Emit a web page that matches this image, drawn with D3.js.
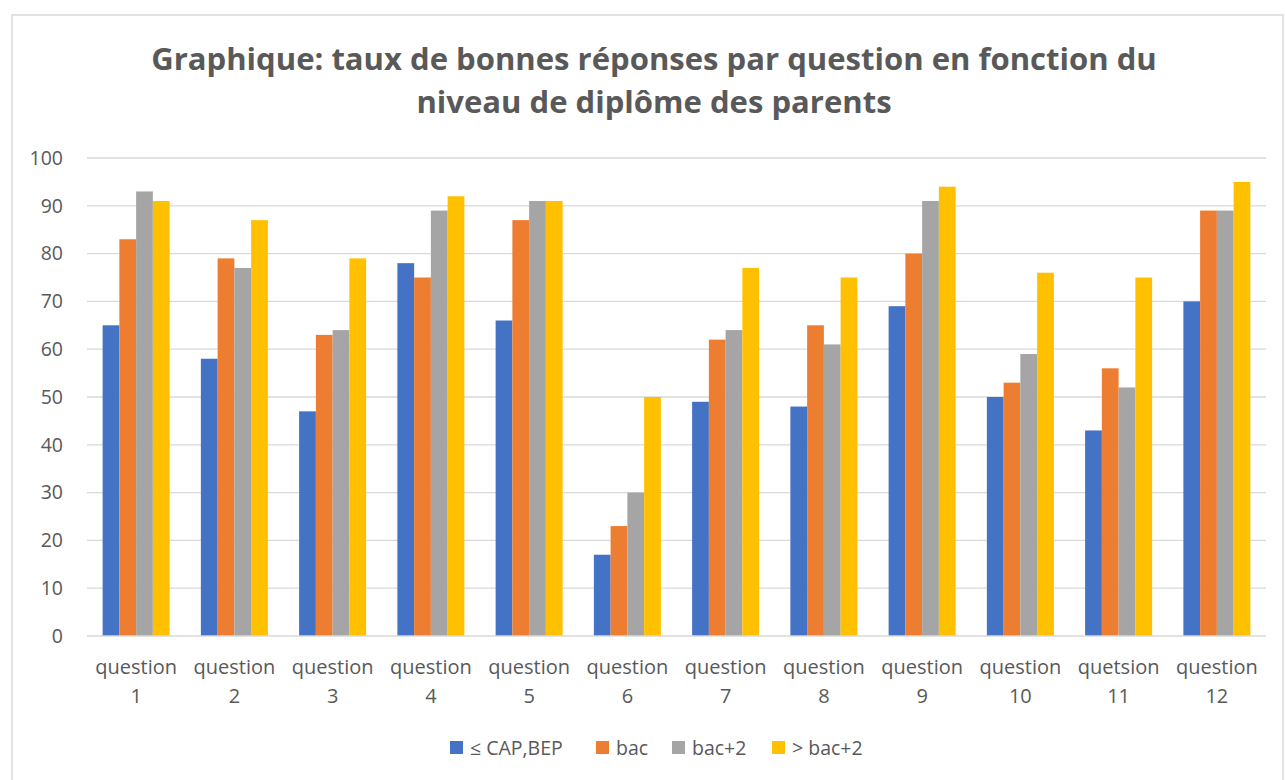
<!DOCTYPE html>
<html>
<head>
<meta charset="utf-8">
<script src="https://cdn.jsdelivr.net/npm/d3@7"></script>
<style>
  body { margin: 0; background: #fff; overflow: hidden; }
  svg { display: block; }
  svg text { font-family: "Open Sans", Lato, sans-serif; fill: #595959; }
</style>
</head>
<body>
<svg id="chart"></svg>
<script>
const categories = ["question 1", "question 2", "question 3", "question 4", "question 5", "question 6",
    "question 7", "question 8", "question 9", "question 10", "quetsion 11", "question 12"];
const seriesNames = ["≤ CAP,BEP", "bac", "bac+2", "> bac+2"];
const capBep = [65, 58, 47, 78, 66, 17, 49, 48, 69, 50, 43, 70];
const bac = [83, 79, 63, 75, 87, 23, 62, 65, 80, 53, 56, 89];
const bac2 = [93, 77, 64, 89, 91, 30, 64, 61, 91, 59, 52, 89];
const overBac2 = [91, 87, 79, 92, 91, 50, 77, 75, 94, 76, 75, 95];
const yTicks = [0, 10, 20, 30, 40, 50, 60, 70, 80, 90, 100];
const titleLines = ["Graphique: taux de bonnes réponses par question en fonction du",
    "niveau de diplôme des parents"];

const colors = ["#4472C4", "#ED7D31", "#A5A5A5", "#FFC000"];
const seriesValues = [capBep, bac, bac2, overBac2];

const width = 1285, height = 780;
const padding = { left: 87, right: 19, top: 158, bottom: 144 };

const svg = d3.select("#chart").attr("width", width).attr("height", height);

// chart frame (runs past the bottom/right of the shot in the original)
svg.append("path")
    .attr("d", `M12,${height} V15 H1283 V${height}`)
    .attr("fill", "none")
    .attr("stroke", "#d9d9d9")
    .attr("stroke-width", 1.5)

const innerWidth = width - padding.left - padding.right
const innerHeight = height - padding.top - padding.bottom

const x0 = d3.scaleBand().domain(categories).range([0, innerWidth])
    .paddingInner(0.318).paddingOuter(0.159)
const x1 = d3.scaleBand().domain(seriesNames).range([0, x0.bandwidth()])
const y = d3.scaleLinear().domain([0, 100]).range([innerHeight, 0])

const axes = svg.append("g").attr("transform", `translate(${padding.left}, ${padding.top})`)

// gridlines
axes.append("g")
    .selectAll("line")
    .data(yTicks.slice(1))
    .join("line")
    .attr("x1", 0).attr("x2", innerWidth)
    .attr("y1", d => y(d)).attr("y2", d => y(d))
    .attr("stroke", "#d9d9d9")
    .attr("stroke-width", 1.3)

// y tick labels
const yAxis = d3.axisLeft(y).tickValues(yTicks).tickSize(0).tickPadding(24)
axes.append("g")
    .attr("class", "axis-y")
    .call(yAxis)
    .call(g => g.select(".domain").remove())
    .selectAll("text")
    .style("font-size", "19.5px")
    .style("font-family", "'Open Sans', sans-serif")
    .attr("fill", "#595959")

// bars
const rows = categories.map((c, i) => ({ cat: c, vals: seriesNames.map((s, j) => ({ s, v: seriesValues[j][i], c: colors[j] })) }))
axes.append("g")
    .selectAll("g")
    .data(rows)
    .join("g")
    .attr("transform", d => `translate(${x0(d.cat)},0)`)
    .selectAll("rect")
    .data(d => d.vals)
    .join("rect")
    .attr("x", d => x1(d.s))
    .attr("y", d => y(d.v))
    .attr("width", x1.bandwidth())
    .attr("height", d => innerHeight - y(d.v))
    .attr("fill", d => d.c)

// x baseline
axes.append("line")
    .attr("x1", 0).attr("x2", innerWidth)
    .attr("y1", innerHeight).attr("y2", innerHeight)
    .attr("stroke", "#d9d9d9")
    .attr("stroke-width", 1.5)

// category labels (two lines)
const xLabels = axes.append("g")
    .selectAll("text")
    .data(categories)
    .join("text")
    .attr("text-anchor", "middle")
    .attr("x", d => x0(d) + x0.bandwidth() / 2)
    .attr("y", innerHeight + 38)
    .style("font-size", "20px")
xLabels.append("tspan").text(d => d.split(" ")[0])
xLabels.append("tspan")
    .attr("x", d => x0(d) + x0.bandwidth() / 2)
    .attr("dy", 29)
    .text(d => d.split(" ")[1])

// title, sized so the first line spans the same width as the original
const title = svg.append("g")
    .selectAll("text")
    .data(titleLines)
    .join("text")
    .attr("x", 654)
    .attr("y", (d, i) => 70 + i * 43)
    .attr("text-anchor", "middle")
    .style("font-size", "30px")
    .style("font-weight", "bold")
    .text(d => d)
const firstLen = title.node().getComputedTextLength()
title.style("font-size", `${Math.min(34, 30 * 1006 / firstLen)}px`)

// legend
const legendX = [450, 596, 672, 772]
const legend = svg.append("g")
    .selectAll("g")
    .data(seriesNames)
    .join("g")
    .attr("transform", (d, i) => `translate(${legendX[i]}, 741)`)
legend.append("rect")
    .attr("width", 13).attr("height", 13)
    .attr("fill", (d, i) => colors[i])
legend.append("text")
    .attr("x", 20).attr("y", 14)
    .style("font-size", "19.5px")
    .text(d => d)
</script>
</body>
</html>
